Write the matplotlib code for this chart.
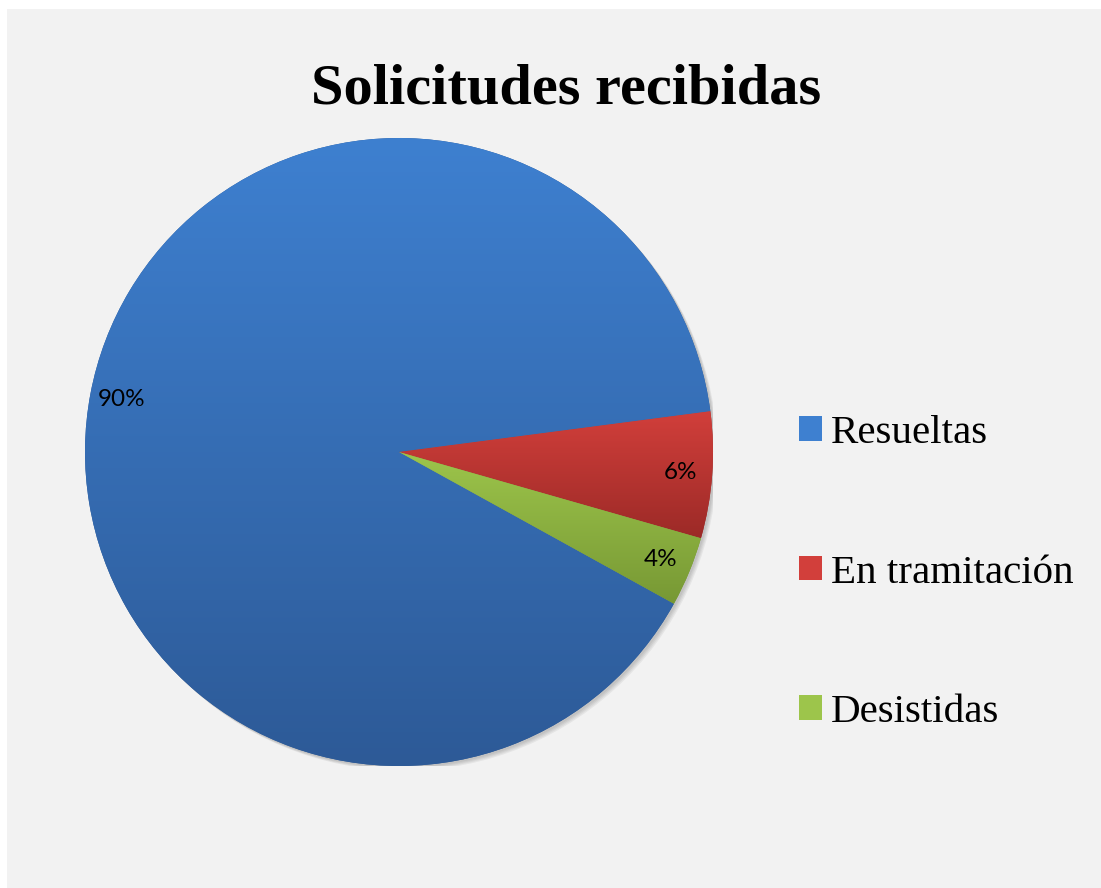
import numpy as np
import matplotlib
matplotlib.use("Agg")
import matplotlib.pyplot as plt
from matplotlib.patches import Rectangle, Circle

# data
labels = ["Resueltas", "En tramitación", "Desistidas"]
values = [89.9, 6.5, 3.6]
pct_labels = ["90%", "6%", "4%"]

# gradient colours (top, bottom) for each slice
grad_top = ["#3e80d0", "#d23f3b", "#9dc54b"]
grad_bot = ["#2d5a97", "#9c2a27", "#779834"]

W, H = 1101, 888
fig = plt.figure(figsize=(W / 100, H / 100), dpi=100)
fig.patch.set_facecolor("white")
fig.patches.append(Rectangle((7 / W, 0), 1, 1 - 9 / H, transform=fig.transFigure,
                             facecolor="#f2f2f2", edgecolor="none", zorder=-10))

# pie axes: centre (399, 452), radius 314 px
cx, cy, r = 399, 452, 314
ax = fig.add_axes([(cx - r) / W, (H - cy - r) / H, 2 * r / W, 2 * r / H])
ax.set_facecolor("none")

# soft shadow
for i in range(4):
    ax.add_patch(Circle((0.006 + i * 0.003, -0.006 - i * 0.003), 1.0, facecolor="black",
                        alpha=0.05, edgecolor="none", zorder=0))

wedges, _ = ax.pie(values, startangle=-28.9, counterclock=False, radius=1.0,
                   colors=grad_bot, wedgeprops=dict(linewidth=0))
for w in wedges:
    w.set_zorder(1)

# vertical gradient on each slice
for w, top, bot in zip(wedges, grad_top, grad_bot):
    bb = w.get_path().get_extents()
    c1 = np.array(matplotlib.colors.to_rgb(top))
    c2 = np.array(matplotlib.colors.to_rgb(bot))
    t = np.linspace(0, 1, 256)[:, None]
    img = (c1 * (1 - t) + c2 * t)[:, None, :]
    im = ax.imshow(img, extent=[bb.x0, bb.x1, bb.y0, bb.y1], origin="upper",
                   aspect="auto", zorder=2, interpolation="bilinear")
    im.set_clip_path(w)

# percentage labels
total = sum(values)
start = -28.9
for v, lab in zip(values, pct_labels):
    mid = start - 360 * v / total / 2
    start -= 360 * v / total
    ang = np.deg2rad(mid)
    ax.text(0.9 * np.cos(ang), 0.9 * np.sin(ang), lab, ha="center", va="center",
            fontsize=17.5, family="Lato", color="black", zorder=5)

ax.set_xlim(-1, 1)
ax.set_ylim(-1, 1)
ax.set_aspect("equal")
ax.axis("off")

fig.text(566 / W, 1 - 103 / H, "Solicitudes recibidas", ha="center", va="baseline",
         fontsize=42, fontweight="bold", family="Liberation Serif")

leg = fig.legend(wedges, labels, loc="center left", bbox_to_anchor=(799 / W, 1 - 573 / H),
                 frameon=False, borderpad=0, borderaxespad=0,
                 handlelength=0.55, handleheight=0.55, handletextpad=0.22,
                 labelspacing=2.5, prop={"family": "Liberation Serif", "size": 29.5})
for h, top in zip(leg.legend_handles, grad_top):
    h.set_facecolor(top)

fig.savefig("out.png", dpi=100)
